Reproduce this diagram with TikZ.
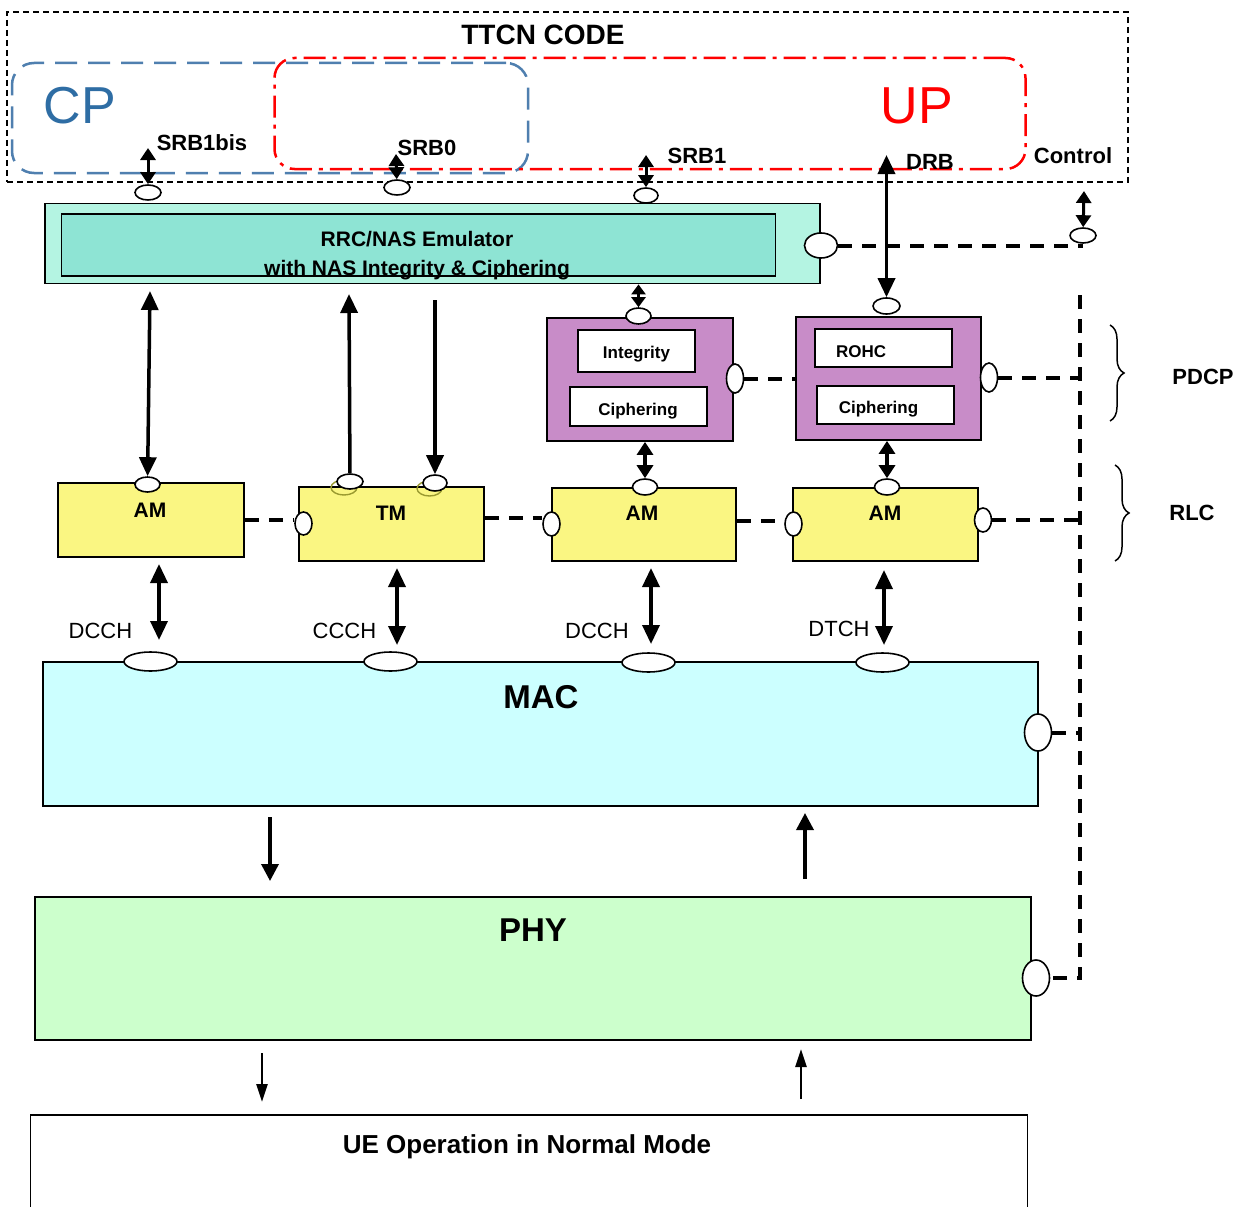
\documentclass[tikz,border=0pt]{standalone}
\usepackage{fontspec}
\setmainfont{Liberation Sans}
\usetikzlibrary{arrows.meta,decorations.pathreplacing,shapes.geometric}
\definecolor{rrcout}{HTML}{B4F4E2}
\definecolor{rrcin}{HTML}{8EE4D4}
\definecolor{pdcpc}{HTML}{C88CC8}
\definecolor{rlcc}{HTML}{FAF682}
\definecolor{macc}{HTML}{CCFFFF}
\definecolor{phyc}{HTML}{CCFFCC}
\definecolor{cpline}{HTML}{4F7FAF}
\definecolor{cptext}{HTML}{2E6DA4}
\definecolor{ghost}{HTML}{9A9A30}
\begin{document}
\begin{tikzpicture}[x=1pt,y=-1pt,
 port/.style={ellipse, draw, fill=white, line width=1.6pt, inner sep=0pt},
 blk/.style={rectangle, draw, line width=1.8pt, inner sep=0pt},
 inbox/.style={rectangle, draw, fill=white, line width=1.8pt, inner sep=0pt},
 tl/.style={font=\bfseries\fontsize{22}{24}\selectfont, inner sep=0pt, anchor=base},
 sl/.style={font=\bfseries\fontsize{17}{19}\selectfont, inner sep=0pt, anchor=base},
 ch/.style={font=\fontsize{22}{24}\selectfont, inner sep=0pt, anchor=base},
 big/.style={font=\bfseries\fontsize{33}{35}\selectfont, inner sep=0pt, anchor=base},
 dbl/.style={line width=3.5pt, {Triangle[length=19pt,width=17pt]}-{Triangle[length=19pt,width=17pt]}},
 mdbl/.style={line width=3.5pt, {Triangle[length=13pt,width=16pt]}-{Triangle[length=13pt,width=16pt]}},
 sdbl/.style={line width=3pt, {Triangle[length=12pt,width=15pt]}-{Triangle[length=12pt,width=15pt]}},
 one/.style={line width=3.5pt, -{Triangle[length=19pt,width=17pt]}},
 mpar/.style={line width=3.5pt, -{Triangle[length=17pt,width=17pt]}},
 thinar/.style={line width=2.6pt, -{Triangle[length=18pt,width=11pt]}},
 dsh/.style={line width=4pt, dash pattern=on 14pt off 10pt},
 brc/.style={line width=1.5pt, decorate, decoration={brace, amplitude=14pt}}
]
\clip (0,0) rectangle (1242,1207);
\fill[white] (0,0) rectangle (1242,1207);

% TTCN area
\node[blk, line width=1.5pt, dash pattern=on 6pt off 4pt, minimum width=1121, minimum height=170] (ttcn) at (567.5,97) {};
\node[rectangle, draw=cpline, line width=2.5pt, dash pattern=on 22pt off 11pt, rounded corners=22pt, minimum width=516, minimum height=110] (cp) at (270,118) {};
\node[rectangle, draw=red, line width=2.5pt, dash pattern=on 22pt off 7pt on 4pt off 7pt, rounded corners=20pt, minimum width=751, minimum height=111] (up) at (650,113.5) {};
\node[font=\bfseries\fontsize{28}{30}\selectfont, inner sep=0pt, anchor=base] (ttcnt) at (543,45) {TTCN CODE};
\node[font=\fontsize{52}{54}\selectfont, text=cptext, inner sep=0pt, anchor=base] (cpt) at (80,123) {CP};
\node[font=\fontsize{52}{54}\selectfont, text=red, inner sep=0pt, anchor=base] (upt) at (917,123) {UP};
\node[tl] (lsrb1bis) at (202,150) {SRB1bis};
\node[tl] (lsrb0) at (427,155) {SRB0};
\node[tl] (lsrb1) at (697,163) {SRB1};
\node[tl] (ldrb) at (930,169) {DRB};
\node[tl] (lctrl) at (1073,163) {Control};

% RRC
\node[blk, fill=rrcout, minimum width=775, minimum height=80] (rrc) at (432.5,243.5) {};
\node[blk, fill=rrcin, minimum width=714, minimum height=62] (rrcin) at (418.5,245) {};
\node[font=\bfseries\fontsize{21}{23}\selectfont, inner sep=0pt, anchor=base] (rrct1) at (417,246.5) {RRC/NAS Emulator};
\node[font=\bfseries\fontsize{21}{23}\selectfont, inner sep=0pt, anchor=base] (rrct2) at (417,275.5) {with NAS Integrity \& Ciphering};

% PDCP
\node[blk, fill=pdcpc, minimum width=186, minimum height=123] (pdcp1) at (640,379.5) {};
\node[inbox, minimum width=117, minimum height=42] (integ) at (636.5,351) {};
\node[sl] (integt) at (636.5,358) {Integrity};
\node[inbox, minimum width=137, minimum height=39] (ciph1) at (638.5,406.5) {};
\node[sl] (ciph1t) at (638,415) {Ciphering};
\node[blk, fill=pdcpc, minimum width=185, minimum height=123] (pdcp2) at (888.5,378.5) {};
\node[inbox, minimum width=137, minimum height=38] (rohc) at (883.5,348) {};
\node[sl, anchor=base west] (rohct) at (836,357) {ROHC};
\node[inbox, minimum width=137, minimum height=38] (ciph2) at (885.5,405) {};
\node[sl] (ciph2t) at (878.5,413) {Ciphering};

% RLC
\node[blk, fill=rlcc, minimum width=186, minimum height=74] (am1) at (151,520) {};
\node[blk, fill=rlcc, minimum width=185, minimum height=74] (tm) at (391.5,524) {};
\node[blk, fill=rlcc, minimum width=184, minimum height=73] (am3) at (644,524.5) {};
\node[blk, fill=rlcc, minimum width=185, minimum height=73] (am4) at (885.5,524.5) {};
\node[font=\bfseries\fontsize{21}{23}\selectfont, inner sep=0pt, anchor=base] (am1t) at (150,517) {AM};
\node[font=\bfseries\fontsize{21}{23}\selectfont, inner sep=0pt, anchor=base] (tmt) at (391,520) {TM};
\node[font=\bfseries\fontsize{21}{23}\selectfont, inner sep=0pt, anchor=base] (am3t) at (642,520) {AM};
\node[font=\bfseries\fontsize{21}{23}\selectfont, inner sep=0pt, anchor=base] (am4t) at (885,520) {AM};

% MAC, PHY, UE
\node[blk, fill=macc, minimum width=995, minimum height=144] (mac) at (540.5,734) {};
\node[big] (mact) at (541,708) {MAC};
\node[blk, fill=phyc, minimum width=996, minimum height=143] (phy) at (533,968.5) {};
\node[big] (phyt) at (533,941) {PHY};
\node[blk, fill=white, minimum width=997, minimum height=140] (ue) at (529,1185) {};
\node[font=\bfseries\fontsize{26}{28}\selectfont, inner sep=0pt, anchor=base] (uet) at (527,1153) {UE Operation in Normal Mode};

% side labels and braces
\draw[brc] (1110,325) -- (1110,421);
\draw[brc] (1115,465) -- (1115,561);
\node[tl] (lpdcp) at (1203,384) {PDCP};
\node[tl] (lrlc) at (1192,520) {RLC};

% channel labels
\node[ch] (ldcch1) at (100.5,638) {DCCH};
\node[ch] (lccch) at (344.5,638) {CCCH};
\node[ch] (ldcch2) at (597,638) {DCCH};
\node[ch] (ldtch) at (839,636) {DTCH};

% ports
\node[port, minimum width=26, minimum height=15] (psrb1bis) at (148,192.5) {};
\node[port, minimum width=26, minimum height=15] (psrb0) at (397,187.5) {};
\node[port, minimum width=24, minimum height=15] (psrb1) at (646,195.5) {};
\node[port, minimum width=27, minimum height=16] (pdrb) at (886.5,306) {};
\node[port, minimum width=26, minimum height=15] (pctrl) at (1083,235.5) {};
\node[port, minimum width=33, minimum height=25] (prrc) at (821,245.5) {};
\node[port, minimum width=25, minimum height=16] (ppd1top) at (638.5,316) {};
\node[port, minimum width=17, minimum height=29] (ppd1r) at (735,378.5) {};
\node[port, minimum width=17, minimum height=29] (ppd2r) at (989,377.5) {};
\node[port, minimum width=25, minimum height=15] (pam1top) at (147.5,484.5) {};
\node[ellipse, draw=ghost, line width=1.4pt, inner sep=0pt, minimum width=26, minimum height=15] (gtm1) at (344,487.5) {};
\node[ellipse, draw=ghost, line width=1.4pt, inner sep=0pt, minimum width=25, minimum height=15] (gtm2) at (429.5,488.5) {};
\node[port, minimum width=26, minimum height=15] (ptm1) at (350,481.5) {};
\node[port, minimum width=24, minimum height=16] (ptm2) at (435,483) {};
\node[port, minimum width=17, minimum height=23] (ptml) at (303.5,523.5) {};
\node[port, minimum width=25, minimum height=16] (pam3top) at (645,487) {};
\node[port, minimum width=17, minimum height=24] (pam3l) at (551.5,524) {};
\node[port, minimum width=25, minimum height=16] (pam4top) at (887,487) {};
\node[port, minimum width=17, minimum height=24] (pam4l) at (793.5,524) {};
\node[port, minimum width=17, minimum height=24] (pam4r) at (983,520) {};
\node[port, minimum width=53, minimum height=19] (pmac1) at (150.5,661.5) {};
\node[port, minimum width=53, minimum height=19] (pmac2) at (390.5,661.5) {};
\node[port, minimum width=53, minimum height=19] (pmac3) at (648.5,662.5) {};
\node[port, minimum width=53, minimum height=19] (pmac4) at (882.5,662.5) {};
\node[port, minimum width=27, minimum height=37] (pmacr) at (1038,732.5) {};
\node[port, minimum width=27, minimum height=36] (pphyr) at (1036,978) {};

% free-end coordinates
\coordinate (csrb1bis) at (148,148);
\coordinate (csrb0) at (396,154);
\coordinate (csrb1) at (646,155);
\coordinate (cdrb) at (886.5,155);
\coordinate (cctrl) at (1084,191);
\coordinate (cam1up) at (150,291);
\coordinate (ctmup) at (349,294);
\coordinate (ctmdn) at (435,300);
\coordinate (vtop) at (1080,295);
\coordinate (r1a) at (159,564); \coordinate (r1b) at (159,640);
\coordinate (r2a) at (397,568); \coordinate (r2b) at (397,645);
\coordinate (r3a) at (651,568); \coordinate (r3b) at (651,644);
\coordinate (r4a) at (884,570); \coordinate (r4b) at (884,645);
\coordinate (mpa) at (270,817); \coordinate (mpb) at (270,881);
\coordinate (pma) at (805,879); \coordinate (pmb) at (805,813);
\coordinate (pua) at (262,1053); \coordinate (pub) at (262,1102);
\coordinate (upa) at (801,1099); \coordinate (upb) at (801,1049);

% dashed control links
\draw[dsh] (prrc.east) -- (prrc.east -| pctrl);
\draw[dsh] (vtop) -- (vtop |- pphyr.east) -- (pphyr.east);
\draw[dsh] (pmacr.east) -- (pmacr.east -| vtop);
\draw[dsh] (ppd1r.east) -- (ppd1r.east -| pdcp2.west);
\draw[dsh] (ppd2r.east) -- (ppd2r.east -| vtop);
\draw[dsh] (am1.east) -- (am1.east -| ptml.west);
\draw[dsh] ([yshift=6pt]tm.east) -- ([yshift=6pt]tm.east -| pam3l.west);
\draw[dsh] ([yshift=3.5pt]am3.east) -- ([yshift=3.5pt]am3.east -| pam4l.west);
\draw[dsh] (pam4r.east) -- (pam4r.east -| vtop);

% arrows
\draw[sdbl] (csrb1bis) -- (psrb1bis);
\draw[sdbl] (csrb0) -- (psrb0);
\draw[sdbl] (csrb1) -- (psrb1);
\draw[dbl] (cdrb) -- (pdrb);
\draw[sdbl] (cctrl) -- (pctrl);
\draw[dbl] (cam1up) -- (pam1top);
\draw[one] (ptm1) -- (ctmup);
\draw[one] (ctmdn) -- (ptm2);
\draw[line width=3pt, {Triangle[length=10pt,width=14pt]}-{Triangle[length=10pt,width=14pt]}] (ppd1top |- rrc.south) -- (ppd1top);
\draw[mdbl] (pam3top |- pdcp1.south) -- (pam3top);
\draw[mdbl] (pam4top |- pdcp2.south) -- (pam4top);
\draw[dbl] (r1a) -- (r1b);
\draw[dbl] (r2a) -- (r2b);
\draw[dbl] (r3a) -- (r3b);
\draw[dbl] (r4a) -- (r4b);
\draw[mpar] (mpa) -- (mpb);
\draw[mpar] (pma) -- (pmb);
\draw[thinar] (pua) -- (pub);
\draw[thinar] (upa) -- (upb);
\end{tikzpicture}
\end{document}
